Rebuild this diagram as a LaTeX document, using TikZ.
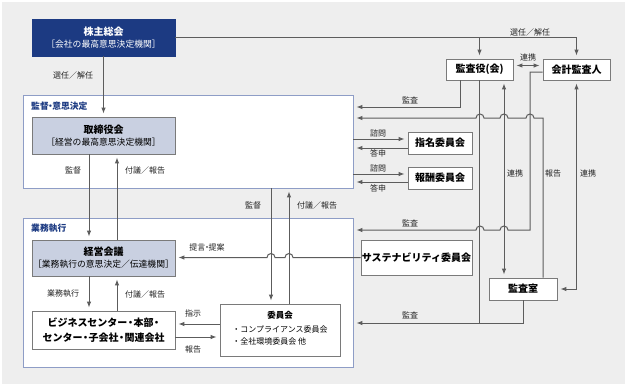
\documentclass[tikz,border=0pt]{standalone}
\usepackage{fontspec}
\setmainfont{Noto Sans CJK JP}
\usetikzlibrary{arrows.meta}

\definecolor{navy}{HTML}{1C3A82}
\definecolor{paleblue}{HTML}{C9D0E1}
\definecolor{edgeblue}{HTML}{8E9DC6}
\definecolor{linegray}{HTML}{5C5C5C}
\definecolor{boxgray}{HTML}{7A7A7A}
\definecolor{bggray}{HTML}{EEEEEE}
\definecolor{labelgray}{HTML}{222222}

\newcommand{\fsz}[2]{\fontsize{#1}{#2}\selectfont}
\newcommand{\subline}{\mdseries\fsz{8.8}{12}}
\newcommand{\dotsep}{\kern-0.3em・\kern-0.3em}
\newcommand{\bizdot}{\kern-0.2em・\kern-0.2em}

\tikzset{
  conn/.style={draw=linegray, line width=1pt},
  arr/.style={conn, -{Latex[length=6pt,width=4.5pt]}, shorten >=3pt},
  dbl/.style={conn, {Latex[length=6pt,width=4.5pt]}-{Latex[length=6pt,width=4.5pt]}, shorten >=3pt, shorten <=3pt},
  plainbox/.style={draw=boxgray, fill=white, line width=0.8pt, inner sep=0pt, align=center, font=\bfseries\fsz{10}{12}},
  palebox/.style={plainbox, fill=paleblue},
  navybox/.style={plainbox, draw=navy, fill=navy, text=white},
  area/.style={draw=edgeblue, fill=white, line width=0.8pt, inner sep=0pt},
  areatitle/.style={anchor=west, inner sep=0pt, text=navy, font=\bfseries\fsz{8.8}{11}},
  lbl/.style={inner sep=0pt, text=labelgray, font=\fsz{8}{10}}
}

\begin{document}
\begin{tikzpicture}[x=1pt,y=-1pt]
    % Canvas
    \useasboundingbox (0,0) rectangle (627,386);
    \fill[bggray] (2,2) rectangle (625,384);

    % Two areas
    \node[area, minimum width=330, minimum height=93] (frameA) at (188,141.5) {};
    \node[areatitle] (titleA) at (31,106) {監督\dotsep 意思決定};
    \node[area, minimum width=330, minimum height=149] (frameB) at (188,292.5) {};
    \node[areatitle] (titleB) at (31,228.5) {業務執行};

    % Boxes on the left
    \node[navybox, minimum width=143, minimum height=37] (soukai) at (103.5,37.5)
        {株主総会\\{\subline ［会社の最高意思決定機関］}};
    \node[palebox, minimum width=143, minimum height=37] (torishimari) at (103.5,135.5)
        {取締役会\\{\subline ［経営の最高意思決定機関］}};
    \node[palebox, minimum width=143, minimum height=36] (keiei) at (103.5,258)
        {経営会議\\{\subline ［業務執行の意思決定／伝達機関］}};
    \node[plainbox, minimum width=143, minimum height=38, font=\bfseries\fsz{10}{14.5}] (business) at (103.5,330)
        {ビジネスセンター\bizdot 本部\bizdot\\センター\bizdot 子会社\bizdot 関連会社};
    \node[plainbox, minimum width=120, minimum height=52, font=\mdseries\fsz{8}{12}] (iinkai) at (280,330)
        {\textbf{\fsz{8.5}{12}委員会}\\[2pt]\begin{tabular}[t]{@{}l@{}}・コンプライアンス委員会\\・全社環境委員会 他\end{tabular}};

    % Boxes on the right
    \node[plainbox, minimum width=64, minimum height=22] (shimei) at (440,143) {指名委員会};
    \node[plainbox, minimum width=64, minimum height=22] (houshu) at (440,178) {報酬委員会};
    \node[plainbox, minimum width=111, minimum height=35] (sustain) at (416.5,257.5) {サステナビリティ委員会};
    \node[plainbox, minimum width=67, minimum height=21] (kansayaku) at (479.5,69.5) {監査役(会)};
    \node[plainbox, minimum width=67, minimum height=21] (kaikei) at (576.5,69.5) {会計監査人};
    \node[plainbox, minimum width=68, minimum height=22] (kansashitsu) at (523,289) {監査室};

    % Helper points
    \coordinate (kansL) at ([xshift=-19.5pt]kansayaku.south);
    \coordinate (kansR) at ([xshift=24.5pt]kansayaku.south);
    \coordinate (kaikeiL) at ([yshift=-2.5pt]kaikei.west);
    \coordinate (shitsuR) at ([xshift=20pt]kansashitsu.north);
    \coordinate (kantokuA) at ([xshift=-14.5pt]torishimari.south);
    \coordinate (fugiA) at ([xshift=13.5pt]torishimari.south);
    \coordinate (kantokuB) at ([xshift=-9pt]iinkai.north);
    \coordinate (fugiB) at ([xshift=9pt]iinkai.north);
    \coordinate (shimonA) at ([yshift=4pt]shimei.west);
    \coordinate (toshinA) at ([yshift=-5pt]shimei.west);
    \coordinate (shimonB) at ([yshift=4pt]houshu.west);
    \coordinate (toshinB) at ([yshift=-4pt]houshu.west);
    \coordinate (shiji) at ([yshift=6pt]iinkai.west);
    \coordinate (hokoku) at ([yshift=-7pt]iinkai.west);

    % Shareholders
    \draw[arr] (soukai.south) -- (torishimari.north);
    \draw[arr] (soukai.east) -| (kaikei.north);
    \draw[arr] (soukai.east -| kansayaku.north) -- (kansayaku.north);
    \node[lbl] (lSenninA) at (73,75) {選任／解任};
    \node[lbl] (lSenninB) at (530,32) {選任／解任};

    % Board and management
    \draw[arr] (kantokuA) -- (kantokuA |- keiei.north);
    \draw[arr] (fugiA |- keiei.north) -- (fugiA);
    \node[lbl] (lKantokuA) at (73,170) {監督};
    \node[lbl] (lFugiA) at (145,170) {付議／報告};
    \draw[arr] (kantokuA |- keiei.south) -- (kantokuA |- business.north);
    \draw[arr] (fugiA |- business.north) -- (fugiA |- keiei.south);
    \node[lbl] (lGyomu) at (63,294) {業務執行};
    \node[lbl] (lFugiB) at (145,294) {付議／報告};

    % Committees
    \draw[arr] (kantokuB |- frameA.south) -- (kantokuB);
    \draw[arr] (fugiB) -- (fugiB |- frameA.south);
    \node[lbl] (lKantokuB) at (253,205) {監督};
    \node[lbl] (lFugiC) at (317,205) {付議／報告};
    \draw[arr] (shiji) -- (shiji -| business.east);
    \draw[arr] (hokoku -| business.east) -- (hokoku);
    \node[lbl] (lShiji) at (193,313) {指示};
    \node[lbl] (lHokokuA) at (193,349) {報告};
    \draw[arr] (sustain.west) -- (293,257.5) arc[start angle=0, end angle=180, x radius=4pt, y radius=4pt]
        -- (275,257.5) arc[start angle=0, end angle=180, x radius=4pt, y radius=4pt] -- (keiei.east |- sustain.west);
    \node[lbl] (lTeigen) at (207,247) {提言\dotsep 提案};

    % Nomination and remuneration
    \draw[arr] (frameA.east |- shimonA) -- (shimonA);
    \draw[arr] (toshinA) -- (frameA.east |- toshinA);
    \draw[arr] (frameA.east |- shimonB) -- (shimonB);
    \draw[arr] (toshinB) -- (frameA.east |- toshinB);
    \node[lbl] (lShimonA) at (378,133) {諮問};
    \node[lbl] (lToshinA) at (378,153.5) {答申};
    \node[lbl] (lShimonB) at (378,168.5) {諮問};
    \node[lbl] (lToshinB) at (378,188.5) {答申};

    % Audit lines
    \draw[dbl] ([yshift=4pt]kansayaku.east) -- ([yshift=4pt]kaikei.west);
    \node[lbl] (lRenkeiA) at (528,57) {連携};
    \draw[arr] (kansL) |- (frameA.east |- 0,107);
    \node[lbl] (lKansaA) at (410,100) {監査};
    \draw[arr] (shitsuR) |- (534,118) arc[start angle=0, end angle=180, x radius=4pt, y radius=4pt]
        -- (508,118) arc[start angle=0, end angle=180, x radius=4pt, y radius=4pt]
        -- (484,118) arc[start angle=0, end angle=180, x radius=4pt, y radius=4pt] -- (frameA.east |- 0,118);
    \draw[arr] (kaikeiL) -| (530,230) -- (508,230) arc[start angle=0, end angle=180, x radius=4pt, y radius=4pt]
        -- (484,230) arc[start angle=0, end angle=180, x radius=4pt, y radius=4pt] -- (frameB.east |- 0,230);
    \node[lbl] (lKansaB) at (410,223) {監査};
    \draw[conn] (kansayaku.south) -- (kansayaku.south |- 0,323);
    \draw[arr] (kansashitsu.south) |- (frameB.east |- 0,323);
    \node[lbl] (lKansaC) at (410,315) {監査};
    \draw[dbl] (kansR) -- (kansR |- kansashitsu.north);
    \draw[dbl] (kaikei.south) |- (kansashitsu.east);
    \node[lbl] (lRenkeiB) at (515,173) {連携};
    \node[lbl] (lHokokuB) at (553,173) {報告};
    \node[lbl] (lRenkeiC) at (588,173) {連携};
\end{tikzpicture}
\end{document}
